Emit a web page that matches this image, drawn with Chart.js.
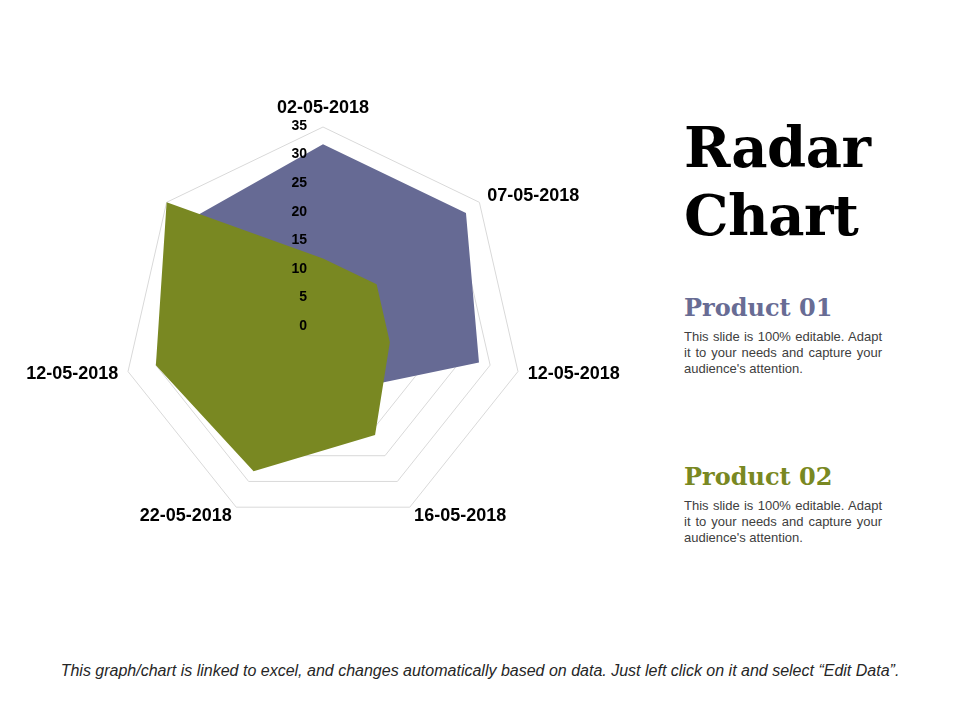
<!DOCTYPE html>
<html>
<head>
<meta charset="utf-8">
<title>Radar Chart</title>
<script src="https://cdn.jsdelivr.net/npm/chart.js@4.4.1/dist/chart.umd.min.js"></script>
<style>
  html, body { margin: 0; padding: 0; background: #fff; }
  body { width: 960px; height: 720px; position: relative; overflow: hidden; font-family: "Liberation Sans", Arial, sans-serif; }
  .chart-box { position: absolute; left: 0; top: 0; width: 646px; height: 660px; }
  .title { position: absolute; left: 684px; top: 113px; font-family: "DejaVu Serif", serif; font-weight: bold; font-size: 56px; line-height: 68px; color: #000; letter-spacing: -0.5px; }
  .prod { position: absolute; left: 684px; font-family: "DejaVu Serif", serif; font-weight: bold; font-size: 24px; line-height: 30px; }
  .p1 { top: 293px; color: #686c94; }
  .p2 { top: 462px; color: #798822; }
  .txt { position: absolute; left: 684px; width: 198px; font-size: 13px; line-height: 16px; color: #404040; text-align: justify; }
  .t1 { top: 329px; }
  .t2 { top: 498px; }
  .foot { position: absolute; left: 0; width: 960px; top: 662px; text-align: center; font-style: italic; font-size: 16px; color: #262626; }
</style>
</head>
<body>
<div class="chart-box"><canvas id="radar"></canvas></div>

<div class="title">Radar<br>Chart</div>
<div class="prod p1">Product 01</div>
<div class="txt t1">This slide is 100% editable. Adapt it to your needs and capture your audience's attention.</div>
<div class="prod p2">Product 02</div>
<div class="txt t2">This slide is 100% editable. Adapt it to your needs and capture your audience's attention.</div>
<div class="foot">This graph/chart is linked to excel, and changes automatically based on data. Just left click on it and select “Edit Data”.</div>

<script>
// data
var labels = ['02-05-2018', '07-05-2018', '12-05-2018', '16-05-2018', '22-05-2018', '12-05-2018', ''];
var product01 = [32, 32, 28, 12, 18, 25, 30];
var product02 = [12, 12, 12, 21, 28, 30, 35];
var tickValues = [0, 5, 10, 15, 20, 25, 30, 35];

// axis labels + tick numbers, drawn over the fills like the excel chart
var labelPlugin = {
    id: 'excelLabels',
    afterDatasetsDraw: function(chart) {
        var scale = chart.scales.r;
        var ctx = chart.ctx;
        ctx.save();
        ctx.fillStyle = '#000';

        ctx.font = 'bold 18px "Liberation Sans", Arial, sans-serif';
        for (var i = 0; i < labels.length; i++) {
            if (!labels[i]) continue;
            var p = scale.getPointPosition(i, scale.drawingArea + 10);
            var s = Math.sin(p.angle + Math.PI / 2);
            var c = Math.cos(p.angle + Math.PI / 2);
            ctx.textAlign = Math.abs(s) < 0.05 ? 'center' : (s > 0 ? 'left' : 'right');
            ctx.textBaseline = c > 0.99 ? 'bottom' : 'middle';
            ctx.fillText(labels[i], p.x, p.y);
        }

        ctx.font = 'bold 14px "Liberation Sans", Arial, sans-serif';
        ctx.textAlign = 'right';
        ctx.textBaseline = 'middle';
        tickValues.forEach(function(v) {
            var y = scale.yCenter - scale.getDistanceFromCenterForValue(v) - 1;
            ctx.fillText(String(v), scale.xCenter - 16, y);
        });
        ctx.restore();
    }
};

var ctx = document.getElementById('radar').getContext('2d');
var chart = new Chart(ctx, {
    type: 'radar',
    data: {
        labels: labels,
        datasets: [{
            label: 'Product 01',
            data: product01,
            backgroundColor: '#666a94',
            borderWidth: 0,
            pointRadius: 0,
            fill: true,
            order: 2
        }, {
            label: 'Product 02',
            data: product02,
            backgroundColor: '#798822',
            borderWidth: 0,
            pointRadius: 0,
            fill: true,
            order: 1   // green sits on top
        }]
    },
    options: {
        responsive: true,
        maintainAspectRatio: false,
        animation: false,
        layout: { padding: { left: 123, right: 123, top: 127, bottom: 133 } },
        plugins: { legend: { display: false }, tooltip: { enabled: false } },
        elements: { line: { tension: 0 } },
        scales: {
            r: {
                min: 0,
                max: 35,
                ticks: { stepSize: 5, display: false },
                grid: { color: '#d9d9d9', lineWidth: 1 },
                angleLines: { display: false },
                pointLabels: { display: false }
            }
        }
    },
    plugins: [labelPlugin]
});
</script>
</body>
</html>
